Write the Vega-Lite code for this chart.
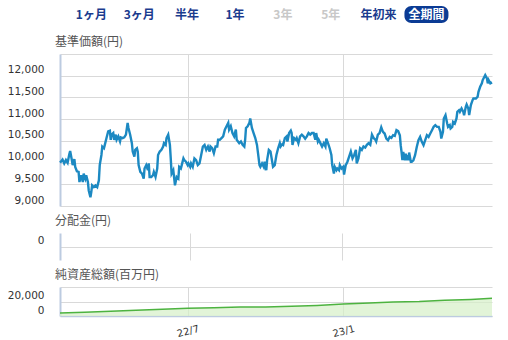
{
"$schema":"https://vega.github.io/schema/vega-lite/v6.json",
"padding":{"left":7,"top":6,"right":16,"bottom":0},
"bounds":"flush",
"spacing":31,
"config":{
 "view":{"stroke":null},
 "axis":{"labelFont":"DejaVu Sans","labelFontSize":10.5,"labelColor":"#333333","gridColor":"#d9d9d9","gridWidth":1,"ticks":false,"title":null,"domainColor":"#bccbe0","domainWidth":2},
 "title":{"font":"Noto Sans CJK JP","fontSize":12,"fontWeight":"normal","color":"#555555","anchor":"start","frame":"group","offset":5,"dx":-5}
},
"datasets":{
"nav":[
{"d":"2022-01-31","v":10000},{"d":"2022-02-01","v":10020},{"d":"2022-02-03","v":10070},{"d":"2022-02-05","v":9980},{"d":"2022-02-07","v":10058},{"d":"2022-02-09","v":9996},{"d":"2022-02-11","v":10190},{"d":"2022-02-12","v":10268},{"d":"2022-02-14","v":10058},{"d":"2022-02-15","v":9940},{"d":"2022-02-17","v":10080},{"d":"2022-02-18","v":9900},{"d":"2022-02-20","v":9800},{"d":"2022-02-22","v":9785},{"d":"2022-02-23","v":9552},{"d":"2022-02-25","v":9708},{"d":"2022-02-27","v":9552},{"d":"2022-02-28","v":9747},
{"d":"2022-03-02","v":9630},{"d":"2022-03-03","v":9708},{"d":"2022-03-05","v":9552},{"d":"2022-03-06","v":9358},{"d":"2022-03-08","v":9202},{"d":"2022-03-09","v":9319},{"d":"2022-03-10","v":9475},{"d":"2022-03-12","v":9436},{"d":"2022-03-14","v":9475},{"d":"2022-03-16","v":9436},{"d":"2022-03-18","v":9591},{"d":"2022-03-19","v":9941},{"d":"2022-03-21","v":10175},{"d":"2022-03-22","v":10369},{"d":"2022-03-24","v":10330},{"d":"2022-03-25","v":10408},{"d":"2022-03-27","v":10564},{"d":"2022-03-29","v":10719},{"d":"2022-03-31","v":10735},
{"d":"2022-04-01","v":10525},{"d":"2022-04-02","v":10642},{"d":"2022-04-04","v":10680},{"d":"2022-04-05","v":10525},{"d":"2022-04-07","v":10642},{"d":"2022-04-08","v":10525},{"d":"2022-04-10","v":10603},{"d":"2022-04-12","v":10486},{"d":"2022-04-13","v":10580},{"d":"2022-04-15","v":10564},{"d":"2022-04-17","v":10580},{"d":"2022-04-19","v":10642},{"d":"2022-04-21","v":10914},{"d":"2022-04-22","v":10797},{"d":"2022-04-24","v":10642},{"d":"2022-04-26","v":10447},{"d":"2022-04-27","v":10253},{"d":"2022-04-29","v":10136},{"d":"2022-04-30","v":10292},
{"d":"2022-05-02","v":10330},{"d":"2022-05-03","v":10253},{"d":"2022-05-04","v":9941},{"d":"2022-05-06","v":9785},{"d":"2022-05-08","v":9747},{"d":"2022-05-10","v":9630},{"d":"2022-05-11","v":9864},{"d":"2022-05-13","v":9941},{"d":"2022-05-15","v":9825},{"d":"2022-05-16","v":9980},{"d":"2022-05-17","v":9669},{"d":"2022-05-19","v":9669},{"d":"2022-05-21","v":9708},{"d":"2022-05-22","v":9785},{"d":"2022-05-24","v":9669},{"d":"2022-05-26","v":9864},{"d":"2022-05-27","v":10175},{"d":"2022-05-29","v":10253},{"d":"2022-05-31","v":10292},
{"d":"2022-06-02","v":10369},{"d":"2022-06-03","v":10447},{"d":"2022-06-05","v":10408},{"d":"2022-06-06","v":10564},{"d":"2022-06-08","v":10642},{"d":"2022-06-10","v":10408},{"d":"2022-06-11","v":10097},{"d":"2022-06-12","v":9747},{"d":"2022-06-14","v":9825},{"d":"2022-06-16","v":9475},{"d":"2022-06-18","v":9669},{"d":"2022-06-20","v":9630},{"d":"2022-06-21","v":9902},{"d":"2022-06-23","v":9864},{"d":"2022-06-24","v":9941},{"d":"2022-06-26","v":10097},{"d":"2022-06-27","v":10058},{"d":"2022-06-29","v":10019},
{"d":"2022-07-01","v":9941},{"d":"2022-07-02","v":9980},{"d":"2022-07-04","v":9902},{"d":"2022-07-05","v":9980},{"d":"2022-07-07","v":9902},{"d":"2022-07-09","v":10097},{"d":"2022-07-11","v":10058},{"d":"2022-07-13","v":9941},{"d":"2022-07-15","v":9980},{"d":"2022-07-17","v":10175},{"d":"2022-07-19","v":10369},{"d":"2022-07-21","v":10408},{"d":"2022-07-23","v":10292},{"d":"2022-07-25","v":10369},{"d":"2022-07-27","v":10253},{"d":"2022-07-28","v":10369},{"d":"2022-07-30","v":10330},
{"d":"2022-08-01","v":10214},{"d":"2022-08-03","v":10369},{"d":"2022-08-05","v":10369},{"d":"2022-08-06","v":10525},{"d":"2022-08-08","v":10525},{"d":"2022-08-10","v":10564},{"d":"2022-08-12","v":10603},{"d":"2022-08-14","v":10758},{"d":"2022-08-16","v":10836},{"d":"2022-08-18","v":10914},{"d":"2022-08-19","v":10758},{"d":"2022-08-21","v":10836},{"d":"2022-08-23","v":10680},{"d":"2022-08-25","v":10603},{"d":"2022-08-27","v":10758},{"d":"2022-08-28","v":10525},{"d":"2022-08-31","v":10447},
{"d":"2022-09-02","v":10486},{"d":"2022-09-04","v":10408},{"d":"2022-09-06","v":10369},{"d":"2022-09-07","v":10525},{"d":"2022-09-08","v":10797},{"d":"2022-09-10","v":10836},{"d":"2022-09-12","v":10914},{"d":"2022-09-13","v":11015},{"d":"2022-09-15","v":10797},{"d":"2022-09-17","v":10680},{"d":"2022-09-19","v":10564},{"d":"2022-09-21","v":10408},{"d":"2022-09-22","v":10253},{"d":"2022-09-24","v":9941},{"d":"2022-09-25","v":9902},{"d":"2022-09-27","v":9980},{"d":"2022-09-29","v":9902},{"d":"2022-09-30","v":10019},
{"d":"2022-10-02","v":9825},{"d":"2022-10-03","v":10058},{"d":"2022-10-05","v":10292},{"d":"2022-10-07","v":10253},{"d":"2022-10-09","v":10019},{"d":"2022-10-10","v":9902},{"d":"2022-10-12","v":9941},{"d":"2022-10-14","v":10175},{"d":"2022-10-16","v":10330},{"d":"2022-10-18","v":10447},{"d":"2022-10-19","v":10369},{"d":"2022-10-21","v":10424},{"d":"2022-10-22","v":10408},{"d":"2022-10-24","v":10564},{"d":"2022-10-26","v":10603},{"d":"2022-10-27","v":10486},{"d":"2022-10-29","v":10680},{"d":"2022-10-31","v":10735},
{"d":"2022-11-01","v":10680},{"d":"2022-11-02","v":10408},{"d":"2022-11-04","v":10564},{"d":"2022-11-06","v":10525},{"d":"2022-11-07","v":10564},{"d":"2022-11-09","v":10447},{"d":"2022-11-11","v":10603},{"d":"2022-11-13","v":10642},{"d":"2022-11-15","v":10603},{"d":"2022-11-17","v":10549},{"d":"2022-11-19","v":10603},{"d":"2022-11-21","v":10680},{"d":"2022-11-23","v":10642},{"d":"2022-11-25","v":10680},{"d":"2022-11-27","v":10680},{"d":"2022-11-29","v":10525},{"d":"2022-11-30","v":10680},
{"d":"2022-12-02","v":10486},{"d":"2022-12-03","v":10525},{"d":"2022-12-05","v":10447},{"d":"2022-12-07","v":10369},{"d":"2022-12-09","v":10447},{"d":"2022-12-11","v":10369},{"d":"2022-12-12","v":10549},{"d":"2022-12-14","v":10447},{"d":"2022-12-16","v":10330},{"d":"2022-12-18","v":10175},{"d":"2022-12-19","v":9941},{"d":"2022-12-21","v":9747},{"d":"2022-12-22","v":9902},{"d":"2022-12-24","v":9825},{"d":"2022-12-25","v":9864},{"d":"2022-12-27","v":9825},{"d":"2022-12-28","v":9941},{"d":"2022-12-30","v":9864},
{"d":"2023-01-01","v":9902},{"d":"2023-01-02","v":9724},{"d":"2023-01-04","v":9941},{"d":"2023-01-06","v":10019},{"d":"2023-01-08","v":10136},{"d":"2023-01-10","v":10253},{"d":"2023-01-12","v":10097},{"d":"2023-01-14","v":10175},{"d":"2023-01-16","v":10292},{"d":"2023-01-17","v":9980},{"d":"2023-01-19","v":10097},{"d":"2023-01-21","v":10330},{"d":"2023-01-23","v":10292},{"d":"2023-01-25","v":10369},{"d":"2023-01-27","v":10346},{"d":"2023-01-29","v":10408},{"d":"2023-01-31","v":10447},
{"d":"2023-02-02","v":10408},{"d":"2023-02-04","v":10642},{"d":"2023-02-06","v":10564},{"d":"2023-02-08","v":10525},{"d":"2023-02-09","v":10486},{"d":"2023-02-11","v":10642},{"d":"2023-02-13","v":10680},{"d":"2023-02-15","v":10813},{"d":"2023-02-17","v":10707},{"d":"2023-02-19","v":10669},{"d":"2023-02-21","v":10554},{"d":"2023-02-23","v":10515},{"d":"2023-02-25","v":10592},{"d":"2023-02-27","v":10569},
{"d":"2023-03-01","v":10631},{"d":"2023-03-03","v":10615},{"d":"2023-03-05","v":10746},{"d":"2023-03-07","v":10723},{"d":"2023-03-09","v":10631},{"d":"2023-03-10","v":10400},{"d":"2023-03-11","v":10246},{"d":"2023-03-12","v":10054},{"d":"2023-03-13","v":10246},{"d":"2023-03-15","v":10054},{"d":"2023-03-16","v":10208},{"d":"2023-03-17","v":10054},{"d":"2023-03-18","v":10169},{"d":"2023-03-19","v":10054},{"d":"2023-03-20","v":10231},{"d":"2023-03-22","v":10015},{"d":"2023-03-23","v":10015},{"d":"2023-03-25","v":10054},{"d":"2023-03-27","v":10169},{"d":"2023-03-29","v":10361},{"d":"2023-03-31","v":10515},
{"d":"2023-04-02","v":10592},{"d":"2023-04-04","v":10477},{"d":"2023-04-06","v":10400},{"d":"2023-04-08","v":10515},{"d":"2023-04-10","v":10631},{"d":"2023-04-12","v":10592},{"d":"2023-04-14","v":10669},{"d":"2023-04-16","v":10746},{"d":"2023-04-18","v":10823},{"d":"2023-04-20","v":10861},{"d":"2023-04-22","v":10823},{"d":"2023-04-24","v":10823},{"d":"2023-04-26","v":10707},{"d":"2023-04-27","v":10554},{"d":"2023-04-29","v":10707},{"d":"2023-04-30","v":11015},
{"d":"2023-05-02","v":11092},{"d":"2023-05-04","v":10900},{"d":"2023-05-05","v":10823},{"d":"2023-05-07","v":10861},{"d":"2023-05-08","v":10784},{"d":"2023-05-10","v":10823},{"d":"2023-05-11","v":10938},{"d":"2023-05-13","v":10900},{"d":"2023-05-15","v":11015},{"d":"2023-05-16","v":11169},{"d":"2023-05-18","v":11207},{"d":"2023-05-19","v":11169},{"d":"2023-05-21","v":11246},{"d":"2023-05-23","v":11169},{"d":"2023-05-24","v":11092},{"d":"2023-05-26","v":11284},{"d":"2023-05-27","v":11338},{"d":"2023-05-29","v":11246},{"d":"2023-05-30","v":11092},
{"d":"2023-06-01","v":11323},{"d":"2023-06-03","v":11438},{"d":"2023-06-04","v":11476},{"d":"2023-06-06","v":11476},{"d":"2023-06-07","v":11476},{"d":"2023-06-09","v":11515},{"d":"2023-06-10","v":11630},{"d":"2023-06-12","v":11746},{"d":"2023-06-14","v":11823},{"d":"2023-06-15","v":11900},{"d":"2023-06-17","v":11977},{"d":"2023-06-18","v":12015},{"d":"2023-06-20","v":11938},{"d":"2023-06-21","v":11823},{"d":"2023-06-22","v":11900},{"d":"2023-06-24","v":11823},{"d":"2023-06-26","v":11846}
],
"div":[{"d":"2022-07-01","v":0},{"d":"2023-01-01","v":0}],
"net":[
{"d":"2022-01-31","v":4000},{"d":"2022-03-01","v":5300},{"d":"2022-04-01","v":6600},{"d":"2022-05-01","v":7800},{"d":"2022-06-01","v":9200},{"d":"2022-07-01","v":10700},{"d":"2022-08-01","v":11500},{"d":"2022-09-01","v":12300},{"d":"2022-10-01","v":12500},{"d":"2022-11-01","v":13400},{"d":"2022-12-01","v":14600},{"d":"2023-01-01","v":16400},{"d":"2023-02-01","v":17900},{"d":"2023-03-01","v":19200},{"d":"2023-04-01","v":20000},{"d":"2023-05-01","v":21600},{"d":"2023-06-01","v":22900},{"d":"2023-06-26","v":24400}
],
"buttons":[
{"label":"1ヶ月","i":0,"s":"on"},{"label":"3ヶ月","i":1,"s":"on"},{"label":"半年","i":2,"s":"on"},{"label":"1年","i":3,"s":"on"},{"label":"3年","i":4,"s":"off"},{"label":"5年","i":5,"s":"off"},{"label":"年初来","i":6,"s":"on"},{"label":"全期間","i":7,"s":"sel"}
]
},
"vconcat":[
{
 "width":432,"height":17,
 "data":{"name":"buttons"},
 "layer":[
  {"transform":[{"filter":"datum.s === 'sel'"}],
   "mark":{"type":"bar","orient":"vertical","width":44,"cornerRadius":7,"color":"#0b3b94"},
   "encoding":{
    "x":{"field":"i","type":"quantitative","scale":{"domain":[-0.551,8.265],"nice":false,"zero":false},"axis":null},
    "y":{"datum":1,"type":"quantitative","scale":{"domain":[0,1],"nice":false},"axis":null}
   }},
  {"mark":{"type":"text","font":"Noto Sans CJK JP","fontSize":12,"fontWeight":"bold","baseline":"middle","align":"center"},
   "encoding":{
    "x":{"field":"i","type":"quantitative","scale":{"domain":[-0.551,8.265],"nice":false,"zero":false},"axis":null},
    "y":{"datum":0.5,"type":"quantitative","axis":null},
    "text":{"field":"label"},
    "color":{"field":"s","type":"nominal","scale":{"domain":["on","off","sel"],"range":["#1a3b8e","#c8c8c8","#ffffff"]},"legend":null}
   }}
 ]
},
{
 "spacing":27,
 "bounds":"flush",
 "vconcat":[
  {
   "width":432,"height":152,
   "title":"基準価額(円)",
   "data":{"name":"nav"},
   "mark":{"type":"line","color":"#1c89c2","strokeWidth":2.4},
   "encoding":{
    "x":{"field":"d","type":"temporal","scale":{"type":"utc","domain":[1643587200000,1687737600000]},"axis":{"values":[1656633600000,1672531200000],"labels":false,"domain":false,"grid":true}},
    "y":{"field":"v","type":"quantitative","scale":{"domain":[9000,12500],"nice":false,"zero":false},"axis":{"values":[9000,9500,10000,10500,11000,11500,12000,12500],"labelExpr":"datum.value >= 12500 ? '' : format(datum.value, ',')","labelBaseline":"alphabetic","labelOffset":-3,"labelPadding":16,"grid":true}}
   }
  },
  {
   "width":432,"height":27,
   "title":"分配金(円)",
   "data":{"name":"div"},
   "mark":{"type":"bar","color":"#1c89c2"},
   "encoding":{
    "x":{"field":"d","type":"temporal","scale":{"type":"utc","domain":[1643587200000,1687737600000]},"axis":{"values":[1656633600000,1672531200000],"labels":false,"domain":false,"grid":true}},
    "y":{"field":"v","type":"quantitative","scale":{"domain":[-1,1],"nice":false,"zero":false},"axis":{"values":[0],"labelExpr":"format(datum.value, ',')","labelBaseline":"alphabetic","labelOffset":-3,"labelPadding":16,"grid":true}}
   }
  },
  {
   "width":432,"height":29,
   "title":"純資産総額(百万円)",
   "data":{"name":"net"},
   "mark":{"type":"area","color":"#d5efc8","line":{"color":"#4db340","strokeWidth":1.5}},
   "encoding":{
    "x":{"field":"d","type":"temporal","scale":{"type":"utc","domain":[1643587200000,1687737600000]},"axis":{"values":[1656633600000,1672531200000],"labelExpr":"utcFormat(datum.value, '%y/%-m')","labelAngle":-15,"labelAlign":"center","labelBaseline":"middle","labelPadding":15,"labelFontSize":10,"grid":true,"domain":true,"domainWidth":1.5}},
    "y":{"field":"v","type":"quantitative","scale":{"domain":[0,40000],"nice":false},"axis":{"values":[0,20000,40000],"labelExpr":"datum.value >= 40000 ? '' : format(datum.value, ',')","labelBaseline":"alphabetic","labelOffset":-3,"labelPadding":16,"grid":true}}
   }
  }
 ]
}
]
}
